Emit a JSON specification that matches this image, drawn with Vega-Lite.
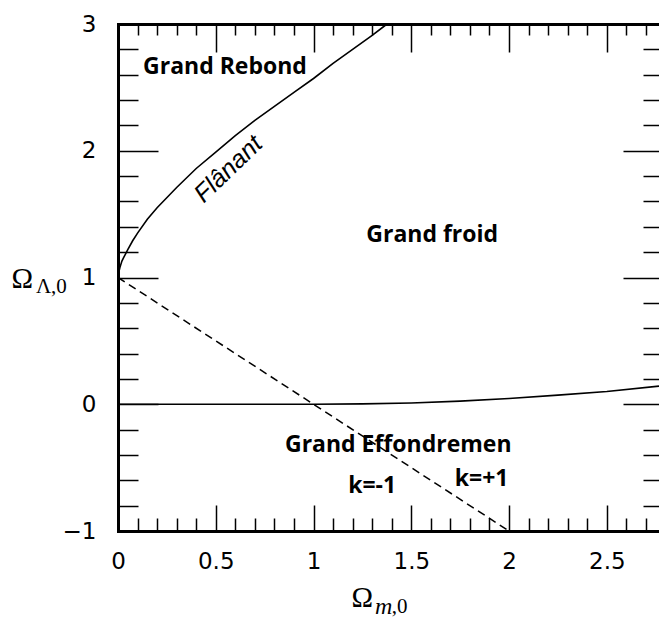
{
  "$schema": "https://vega.github.io/schema/vega-lite/v6.json",
  "autosize": {"type": "none"},
  "padding": {"left": 118, "top": 24, "right": 0, "bottom": 90},
  "width": 541,
  "height": 507,
  "background": "white",
  "config": {"view": {"stroke": null}},
  "resolve": {"axis": {"x": "independent", "y": "independent"}},
  "datasets": {
    "upper": [
      {"om": 0, "ol": 1}, {"om": 0.002, "ol": 1.03}, {"om": 0.01, "ol": 1.08}, {"om": 0.02, "ol": 1.13},
      {"om": 0.03, "ol": 1.16}, {"om": 0.05, "ol": 1.22}, {"om": 0.075, "ol": 1.29}, {"om": 0.1, "ol": 1.35},
      {"om": 0.15, "ol": 1.46}, {"om": 0.2, "ol": 1.55}, {"om": 0.3, "ol": 1.71}, {"om": 0.4, "ol": 1.86},
      {"om": 0.5, "ol": 1.99}, {"om": 0.6, "ol": 2.12}, {"om": 0.7, "ol": 2.24}, {"om": 0.8, "ol": 2.35},
      {"om": 0.9, "ol": 2.46}, {"om": 1.0, "ol": 2.57}, {"om": 1.1, "ol": 2.69}, {"om": 1.2, "ol": 2.8},
      {"om": 1.3, "ol": 2.91}, {"om": 1.376, "ol": 3.0}
    ],
    "lower": [
      {"om": 0, "ol": 0}, {"om": 0.5, "ol": 0}, {"om": 1.0, "ol": 0}, {"om": 1.25, "ol": 0.003},
      {"om": 1.5, "ol": 0.01}, {"om": 1.75, "ol": 0.025}, {"om": 2.0, "ol": 0.045}, {"om": 2.25, "ol": 0.072},
      {"om": 2.5, "ol": 0.1}, {"om": 2.767, "ol": 0.143}
    ],
    "dashed": [{"om": 0, "ol": 1}, {"om": 2, "ol": -1}],
    "regions": [
      {"label": "Grand Rebond", "om": 0.128, "ol": 2.657},
      {"label": "Grand froid", "om": 1.27, "ol": 1.335},
      {"label": "Grand Effondremen", "om": 0.854, "ol": -0.322}
    ],
    "curv": [
      {"label": "k=-1", "om": 1.30, "ol": -0.645},
      {"label": "k=+1", "om": 1.86, "ol": -0.586}
    ],
    "loiter": [{"label": "Flânant", "om": 0.563, "ol": 1.856}],
    "omega": [
      {"label": "Ω", "om": -0.49, "ol": 0.99},
      {"label": "Ω", "om": 1.25, "ol": -1.53}
    ],
    "subs": [
      {"label": "Λ,0", "om": -0.42, "ol": 0.925},
      {"label": ",0", "om": 1.4, "ol": -1.6}
    ],
    "subm": [{"label": "m", "om": 1.315, "ol": -1.6}]
  },
  "layer": [
    {
      "data": {"name": "upper"},
      "mark": {"type": "line", "color": "black", "strokeWidth": 1.6},
      "encoding": {
        "x": {"field": "om", "type": "quantitative", "scale": {"domain": [0, 2.767], "nice": false, "zero": false},
          "axis": {"orient": "bottom", "title": null,
            "values": [0,0.1,0.2,0.3,0.4,0.5,0.6,0.7,0.8,0.9,1,1.1,1.2,1.3,1.4,1.5,1.6,1.7,1.8,1.9,2,2.1,2.2,2.3,2.4,2.5,2.6,2.7],
            "domainColor": "black", "domainWidth": 3, "domainCap": "square",
            "tickColor": "black", "tickWidth": 1.5,
            "tickSize": {"condition": {"test": "abs(datum.value*2 - round(datum.value*2)) < 0.01", "value": -26}, "value": -13},
            "labelExpr": "abs(datum.value*2 - round(datum.value*2)) < 0.01 ? format(datum.value, '~g') : ''",
            "labelFlush": false, "labelOverlap": false, "labelPadding": 45,
            "labelFont": "DejaVu Sans", "labelFontSize": 23, "labelColor": "black", "grid": false}},
        "y": {"field": "ol", "type": "quantitative", "scale": {"domain": [-1, 3], "nice": false, "zero": false},
          "axis": {"orient": "left", "title": null,
            "values": [-1,-0.8,-0.6,-0.4,-0.2,0,0.2,0.4,0.6,0.8,1,1.2,1.4,1.6,1.8,2,2.2,2.4,2.6,2.8,3],
            "domainColor": "black", "domainWidth": 3, "domainCap": "square",
            "tickColor": "black", "tickWidth": 1.5,
            "tickSize": {"condition": {"test": "abs(datum.value - round(datum.value)) < 0.01", "value": -40}, "value": -20},
            "labelExpr": "abs(datum.value - round(datum.value)) < 0.01 ? format(datum.value, '~g') : ''",
            "labelFlush": false, "labelOverlap": false, "labelPadding": 62,
            "labelFont": "DejaVu Sans", "labelFontSize": 23, "labelColor": "black", "grid": false}}
      }
    },
    {
      "data": {"name": "lower"},
      "mark": {"type": "line", "color": "black", "strokeWidth": 1.6},
      "encoding": {
        "x": {"field": "om", "type": "quantitative",
          "axis": {"orient": "top", "title": null, "labels": false,
            "values": [0,0.1,0.2,0.3,0.4,0.5,0.6,0.7,0.8,0.9,1,1.1,1.2,1.3,1.4,1.5,1.6,1.7,1.8,1.9,2,2.1,2.2,2.3,2.4,2.5,2.6,2.7],
            "domainColor": "black", "domainWidth": 3, "domainCap": "square",
            "tickColor": "black", "tickWidth": 1.5,
            "tickSize": {"condition": {"test": "abs(datum.value*2 - round(datum.value*2)) < 0.01", "value": -28}, "value": -11},
            "grid": false}},
        "y": {"field": "ol", "type": "quantitative",
          "axis": {"orient": "right", "title": null, "labels": false, "domain": false,
            "values": [-1,-0.8,-0.6,-0.4,-0.2,0,0.2,0.4,0.6,0.8,1,1.2,1.4,1.6,1.8,2,2.2,2.4,2.6,2.8,3],
            "tickColor": "black", "tickWidth": 1.5,
            "tickSize": {"condition": {"test": "abs(datum.value - round(datum.value)) < 0.01", "value": -36}, "value": -16},
            "grid": false}}
      }
    },
    {
      "data": {"name": "dashed"},
      "mark": {"type": "line", "color": "black", "strokeWidth": 1.5, "strokeDash": [8, 5]},
      "encoding": {
        "x": {"field": "om", "type": "quantitative", "axis": null},
        "y": {"field": "ol", "type": "quantitative", "axis": null}
      }
    },
    {
      "data": {"name": "regions"},
      "mark": {"type": "text", "font": "Open Sans", "fontWeight": "bold", "fontSize": 23, "align": "left", "baseline": "middle", "color": "black"},
      "encoding": {
        "x": {"field": "om", "type": "quantitative", "axis": null},
        "y": {"field": "ol", "type": "quantitative", "axis": null},
        "text": {"field": "label"}
      }
    },
    {
      "data": {"name": "curv"},
      "mark": {"type": "text", "font": "Open Sans", "fontWeight": "bold", "fontSize": 23, "align": "center", "baseline": "middle", "color": "black"},
      "encoding": {
        "x": {"field": "om", "type": "quantitative", "axis": null},
        "y": {"field": "ol", "type": "quantitative", "axis": null},
        "text": {"field": "label"}
      }
    },
    {
      "data": {"name": "loiter"},
      "mark": {"type": "text", "font": "Liberation Sans", "fontStyle": "italic", "fontSize": 25, "angle": -44, "align": "center", "baseline": "middle", "color": "black"},
      "encoding": {
        "x": {"field": "om", "type": "quantitative", "axis": null},
        "y": {"field": "ol", "type": "quantitative", "axis": null},
        "text": {"field": "label"}
      }
    },
    {
      "data": {"name": "omega"},
      "mark": {"type": "text", "font": "Liberation Serif", "fontSize": 29, "align": "center", "baseline": "middle", "color": "black"},
      "encoding": {
        "x": {"field": "om", "type": "quantitative", "axis": null},
        "y": {"field": "ol", "type": "quantitative", "axis": null},
        "text": {"field": "label"}
      }
    },
    {
      "data": {"name": "subs"},
      "mark": {"type": "text", "font": "Liberation Serif", "fontSize": 21, "align": "left", "baseline": "middle", "color": "black"},
      "encoding": {
        "x": {"field": "om", "type": "quantitative", "axis": null},
        "y": {"field": "ol", "type": "quantitative", "axis": null},
        "text": {"field": "label"}
      }
    },
    {
      "data": {"name": "subm"},
      "mark": {"type": "text", "font": "Liberation Serif", "fontStyle": "italic", "fontSize": 24, "align": "left", "baseline": "middle", "color": "black"},
      "encoding": {
        "x": {"field": "om", "type": "quantitative", "axis": null},
        "y": {"field": "ol", "type": "quantitative", "axis": null},
        "text": {"field": "label"}
      }
    }
  ]
}
